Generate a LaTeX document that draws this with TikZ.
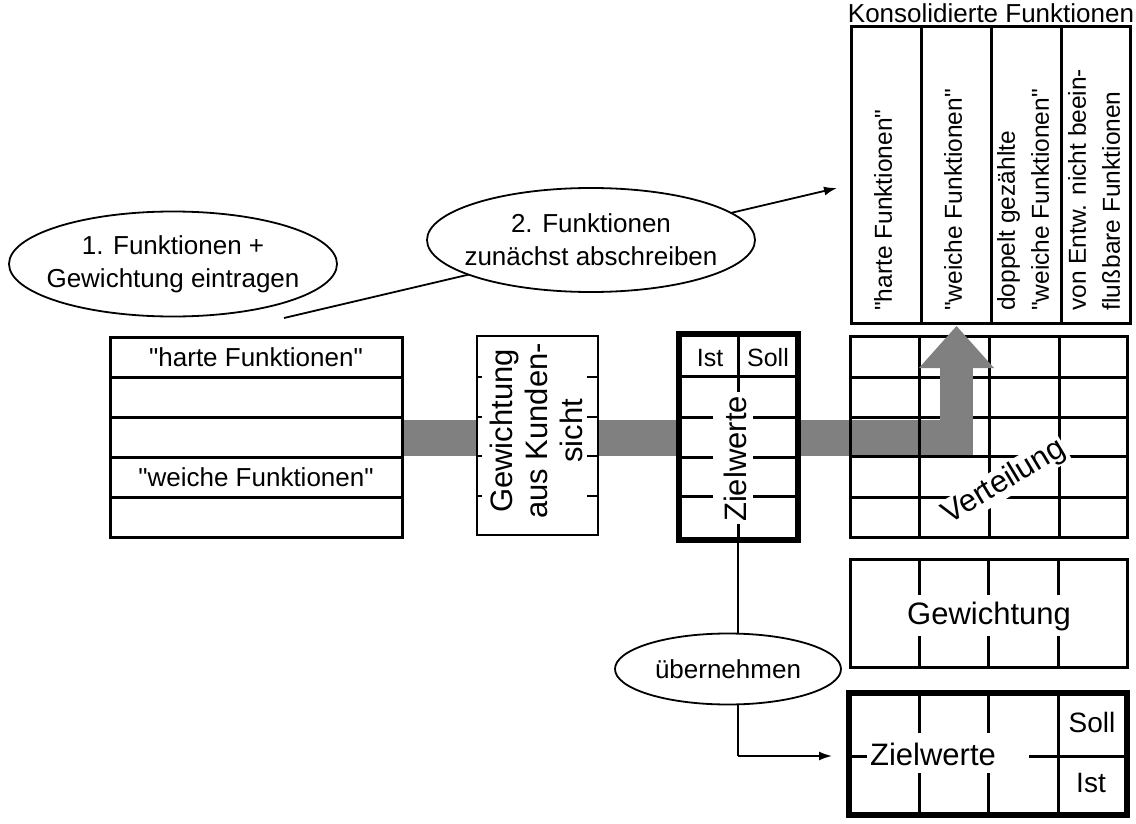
\documentclass[tikz,border=0pt]{standalone}
\usepackage{fontspec}
\setmainfont{Liberation Sans}[Ligatures=TeXOff]
\usetikzlibrary{shapes.geometric,arrows.meta}

\begin{document}
\begin{tikzpicture}[x=1pt,y=-1pt,
  conn/.style={line width=1.8pt},
  arrowconn/.style={line width=1.8pt,-{Latex[length=13pt,width=9pt]}},
  gridline/.style={line width=3pt},
  midline/.style={line width=2.5pt},
  heavy/.style={line width=6pt},
  bubble/.style={draw,ellipse,line width=1.8pt,fill=white,inner sep=0pt},
  bandfill/.style={fill={rgb,255:red,128;green,128;blue,128}},
  txt/.style={inner sep=0pt,font=\fontsize{26}{33}\selectfont,align=center},
  bigtxt/.style={inner sep=0pt,font=\fontsize{31}{35}\selectfont,align=center},
  smalltxt/.style={inner sep=0pt,font=\fontsize{25}{28}\selectfont},
  celltxt/.style={inner sep=0pt,font=\fontsize{28}{30}\selectfont},
  vtxt/.style={inner sep=0pt,font=\fontsize{24.5}{34}\selectfont,align=left,rotate=90,anchor=west},
]
\useasboundingbox (0,0) rectangle (1136,824);

% ---- gray flow band (horizontal part) ----
\fill[bandfill] (403,420) rectangle (973,456);

% ---- list of functions ----
\draw[gridline,fill=white] (110,337) rectangle (402,537);
\foreach \y in {377,417,457,497} \draw[gridline] (110,\y) -- (402,\y);
\node[txt] (hart) at (256,357) {"harte Funktionen"};
\node[txt] (weich) at (256,477) {"weiche Funktionen"};

% ---- customer weighting column ----
\draw[midline,fill=white] (477,336) rectangle (598,535);
\foreach \y in {377,417,456,496} {
  \draw[midline] (477,\y) -- (482,\y);
  \draw[midline] (587,\y) -- (598,\y);
}
\node[bigtxt,rotate=90] (kunde) at (536,431) {Gewichtung\\aus Kunden-\\sicht};

% ---- target value column ----
\draw[heavy,fill=white] (679,334) rectangle (798,540);
\draw[gridline] (679,376) -- (798,376);
\foreach \y in {417,457,496} {
  \draw[gridline] (679,\y) -- (713,\y);
  \draw[gridline] (753,\y) -- (798,\y);
}
\draw[gridline] (738,334) -- (738,392);
\draw[gridline] (738,524) -- (738,540);
\node[smalltxt] (ist1) at (710,358) {Ist};
\node[smalltxt] (soll1) at (768,358) {Soll};
\node[bigtxt,rotate=90] (ziel1) at (735,459) {Zielwerte};

% ---- distribution grid ----
\draw[gridline] (850,336) rectangle (1127,537);
\foreach \y in {377,417.5,456.5,497.5} \draw[gridline] (850,\y) -- (1127,\y);
\foreach \x in {989,1059} \draw[gridline] (\x,336) -- (\x,537);
% band continues over the grid; left lines stay visible through it
\fill[bandfill] (840,420) rectangle (973,456);
\foreach \x in {850,919.5} \draw[gridline] (\x,336) -- (\x,537);
\draw[gridline] (850,456.5) -- (973,456.5);
% upward arrow of the band
\fill[bandfill] (940,366) rectangle (973,422);
\fill[bandfill] (919,368) -- (956.5,326) -- (994,368) -- cycle;
\node[bigtxt,rotate=31,fill=white,inner sep=1pt] (vert) at (1004,482) {Verteilung};

% ---- consolidated functions header ----
\node[txt] (kons) at (991,13) {Konsolidierte Funktionen};
\draw[gridline] (851,27) rectangle (1130,323);
\foreach \x in {921,991,1061} \draw[gridline] (\x,27) -- (\x,323);
\node[vtxt] (k1) at (883,311) {"harte Funktionen"};
\node[vtxt] (k2) at (953,311) {"weiche Funktionen"};
\node[vtxt] (k3) at (1023,311) {doppelt gezählte\\"weiche Funktionen"};
\node[vtxt] (k4) at (1094,311) {von Entw. nicht beein-\\fluß\kern1.5pt bare Funktionen};

% ---- weighting row ----
\draw[gridline] (850,559) rectangle (1127,667);
\foreach \x in {919.5,988.5,1058.5} {
  \draw[gridline] (\x,559) -- (\x,595);
  \draw[gridline] (\x,636) -- (\x,667);
}
\node[bigtxt] (gew) at (989,616) {Gewichtung};

% ---- target value row ----
\draw[heavy] (848.5,693) rectangle (1127,815);
\foreach \x in {919.5,988.5} {
  \draw[gridline] (\x,693) -- (\x,733);
  \draw[gridline] (\x,773) -- (\x,815);
}
\draw[gridline] (1058.5,693) -- (1058.5,815);
\draw[gridline] (848.5,756) -- (867,756);
\draw[gridline] (1029,756) -- (1127,756);
\node[bigtxt] (ziel2) at (933,754) {Zielwerte};
\node[celltxt] (soll2) at (1092,722) {Soll};
\node[celltxt] (ist2) at (1091,783) {Ist};

% ---- pointer from the list to the header ----
\coordinate (from) at (284,318);
\coordinate (to) at (837,188);
\draw[arrowconn] (from) -- (to);

% ---- hand-over of target values ----
\coordinate (zsrc) at (738,540);
\coordinate (zbend) at (738,756);
\coordinate (zdst) at (832,756);
\draw[conn] (zsrc) -- (zbend);
\draw[arrowconn] (zbend) -- (zdst);

% ---- callouts ----
\node[bubble,minimum width=328pt,minimum height=105pt] (b1) at (173,264) {};
\node[txt] (b1t) at (b1) {1. Funktionen +\\Gewichtung eintragen};
\node[bubble,minimum width=328pt,minimum height=104pt] (b2) at (591,240) {};
\node[txt] (b2t) at (b2) {2. Funktionen\\zunächst abschreiben};
\node[bubble,minimum width=226pt,minimum height=71pt] (b3) at (728,669) {};
\node[txt] (b3t) at (b3) {übernehmen};
\end{tikzpicture}
\end{document}
